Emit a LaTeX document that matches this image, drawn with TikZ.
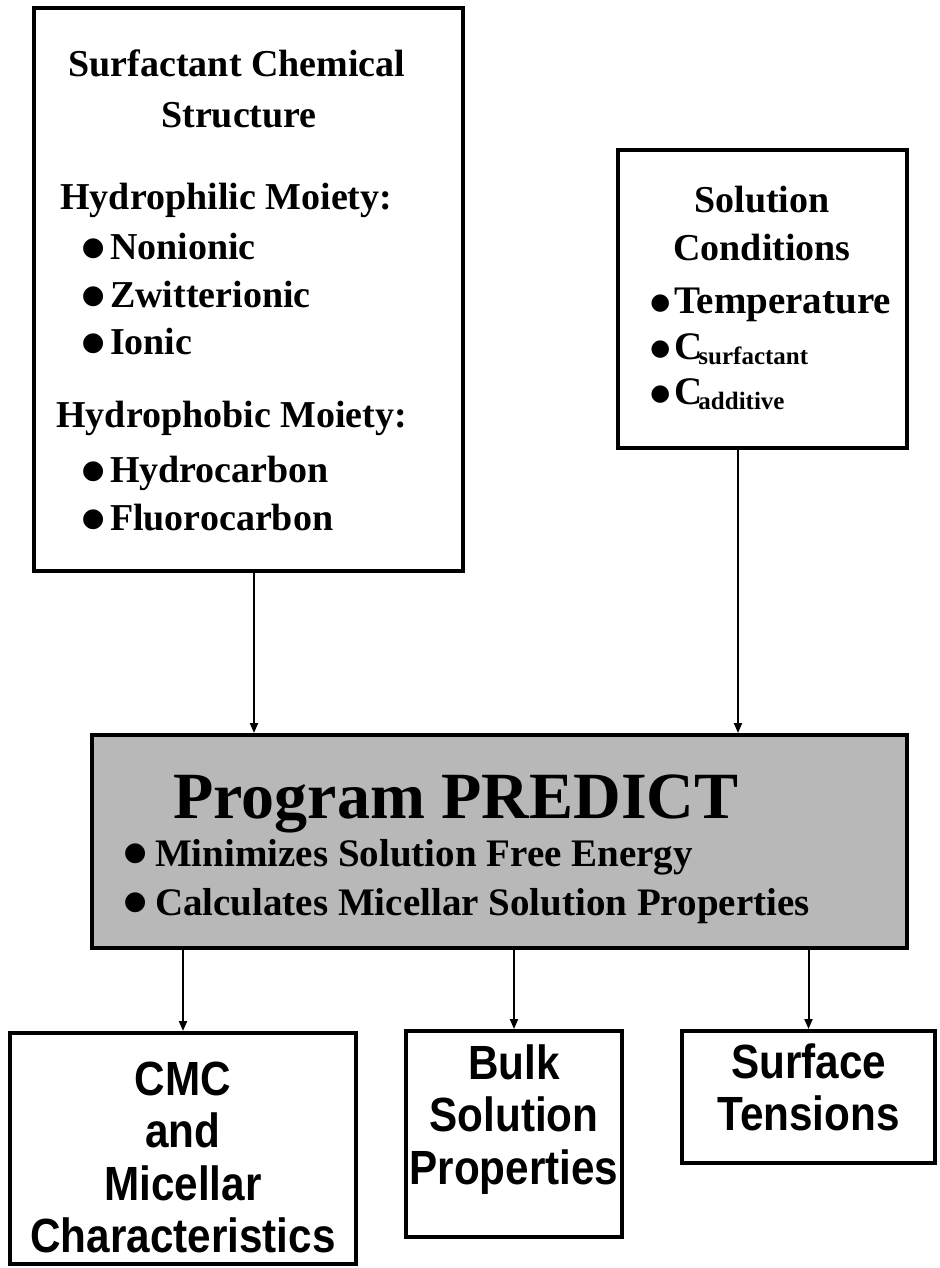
\documentclass[tikz,border=0pt]{standalone}
\usepackage{fontspec}
\setmainfont{Liberation Serif}
\setsansfont{Liberation Sans}[FakeStretch=0.88]
\newfontfamily\dotfont{DejaVu Sans}
\usetikzlibrary{
  arrows.meta,
  positioning,
  calc
}
\definecolor{psInk}{HTML}{000000}
\definecolor{psShade}{HTML}{B8B8B8}
% bullet glyph: size, lift
\newcommand{\bigdot}[2]{\raisebox{#2}{\dotfont\fontsize{#1}{#1}\selectfont ●}}
\tikzset{
  psbox/.style={draw=psInk, line width=2pt, fill=white, inner sep=0pt},
  progbox/.style={psbox, fill=psShade},
  outtext/.style={font=\sffamily\bfseries\fontsize{24}{26.3}\selectfont, align=center, inner sep=0pt},
  head/.style={font=\bfseries\fontsize{19}{24}\selectfont, anchor=base, inner sep=0pt},
  item/.style={font=\bfseries\fontsize{19}{24}\selectfont, anchor=base west, inner sep=0pt},
  cond/.style={font=\bfseries\fontsize{19.5}{22}\selectfont, anchor=base west, inner sep=0pt},
  prog/.style={font=\bfseries\fontsize{19.5}{24}\selectfont, anchor=base west, inner sep=0pt},
  flow/.style={-{Triangle[length=5pt, width=4pt]}, line width=1pt, psInk}
}

\begin{document}
\begin{tikzpicture}[x=0.5pt, y=-0.5pt]
  \useasboundingbox (0,0) rectangle (940,1268);
  % input boxes
  \node[psbox, minimum width=214.5pt, minimum height=281.5pt] (struct) at (248.5,289.5) {};
  \node[psbox, minimum width=144.5pt, minimum height=149pt] (solcond) at (762.5,299) {};
  % program box
  \node[progbox, minimum width=407.5pt, minimum height=106.5pt] (predict) at (499.5,841.5) {};
  % output boxes
  \node[psbox, minimum width=173pt, minimum height=115.5pt] (cmc) at (183,1148.5) {};
  \node[psbox, minimum width=108pt, minimum height=103pt] (bulk) at (514,1134) {};
  \node[psbox, minimum width=126.5pt, minimum height=66pt] (tens) at (808.5,1097) {};
  \node[outtext] (cmctxt) at (183,1157.5) {CMC\\and\\Micellar\\Characteristics};
  \node[outtext] (bulktxt) at (514,1119.5) {Bulk\\Solution\\Properties};
  \node[outtext] (tenstxt) at (808.5,1087.5) {Surface\\Tensions};

  % surfactant structure text
  \node[head] (sttl1) at (237,77) {Surfactant Chemical};
  \node[head] (sttl2) at (239,127) {Structure};
  \node[item] (philic) at (60,209) {Hydrophilic Moiety:};
  \foreach \y/\t [count=\i] in {259/Nonionic, 307/Zwitterionic, 354/Ionic}
    \node[item] (phil\i) at (81.5,\y) {\bigdot{13}{1.6pt}\hspace{2.75pt}\t};
  \node[item] (phobic) at (56,427) {Hydrophobic Moiety:};
  \foreach \y/\t [count=\i] in {482/Hydrocarbon, 530/Fluorocarbon}
    \node[item] (phob\i) at (81.5,\y) {\bigdot{13}{1.6pt}\hspace{2.75pt}\t};

  % solution conditions text
  \node[head] (cttl1) at (762,212) {Solution};
  \node[head] (cttl2) at (762,260) {Conditions};
  \node[cond] (temp) at (650,313) {\bigdot{11.4}{1.6pt}\hspace{2pt}Temperature};
  \node[cond] (csurf) at (650,359) {\bigdot{11.4}{1.6pt}\hspace{2pt}C\kern-2pt\raisebox{-0.3ex}{\fontsize{12.5}{13}\selectfont surfactant}};
  \node[cond] (cadd) at (650,404) {\bigdot{11.4}{1.6pt}\hspace{2pt}C\kern-2pt\raisebox{-0.3ex}{\fontsize{12.5}{13}\selectfont additive}};

  % program text
  \node[font=\bfseries\fontsize{33}{38}\selectfont, anchor=base, inner sep=0pt] (ptitle) at (456,818) {Program PREDICT};
  \node[prog] (pmin) at (123.5,866) {\bigdot{13}{2.6pt}\hspace{4.25pt}Minimizes Solution Free Energy};
  \node[prog] (pcalc) at (123.5,915) {\bigdot{13}{2.6pt}\hspace{4.25pt}Calculates Micellar Solution Properties};

  % connectors
  \draw[flow] ([xshift=2.75pt]struct.south) -- ([xshift=2.75pt]struct.south |- predict.north);
  \draw[flow] ([xshift=-12.25pt]solcond.south) -- ([xshift=-12.25pt]solcond.south |- predict.north);
  \foreach \o in {cmc, bulk, tens}{\draw[flow] (\o.north |- predict.south) -- (\o.north);}
\end{tikzpicture}
\end{document}
